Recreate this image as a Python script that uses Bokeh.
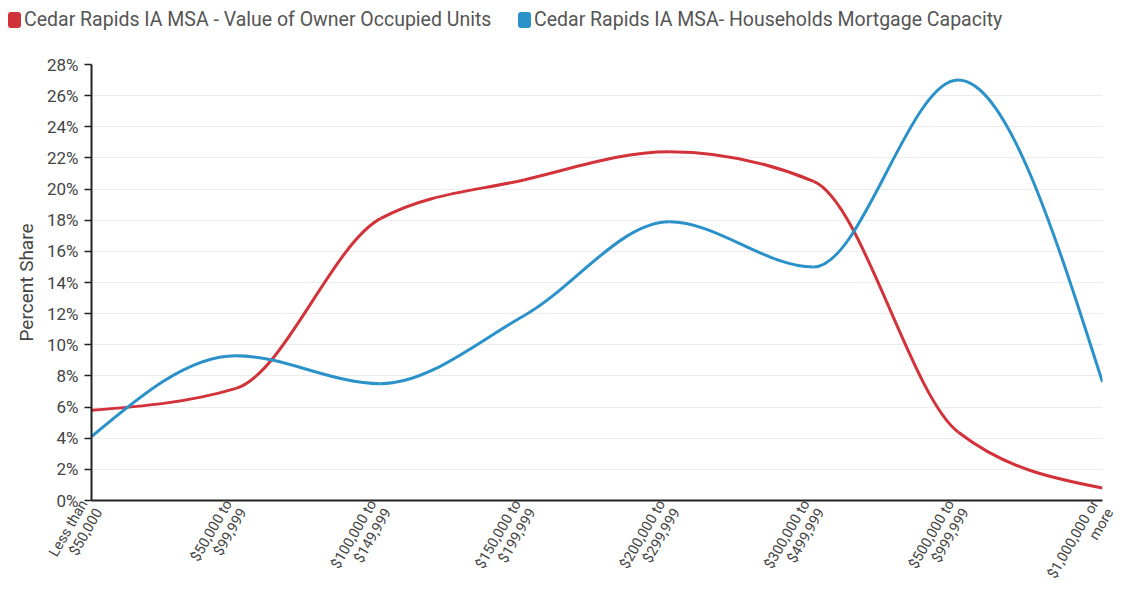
import numpy as np
from bokeh.plotting import figure
from bokeh.layouts import column
from bokeh.models import ColumnDataSource, FixedTicker, Range1d, Div
from bokeh.embed import file_html
from bokeh.resources import INLINE

# ---------------- data ----------------
categories = [
    "Less than\n$50,000",
    "$50,000 to\n$99,999",
    "$100,000 to\n$149,999",
    "$150,000 to\n$199,999",
    "$200,000 to\n$299,999",
    "$300,000 to\n$499,999",
    "$500,000 to\n$999,999",
    "$1,000,000 or\nmore",
]
value_owner_occupied = [5.8, 7.2, 18.1, 20.6, 22.4, 20.5, 4.4, 0.8]
mortgage_capacity = [4.1, 9.3, 7.5, 11.9, 17.9, 15.0, 27.0, 7.6]
y_ticks = list(range(0, 29, 2))

series_names = [
    "Cedar Rapids IA MSA - Value of Owner Occupied Units",
    "Cedar Rapids IA MSA- Households Mortgage Capacity",
]
RED = "#d2333b"
BLUE = "#2a91c9"
FONT = "Roboto"
W = 1125


def monotone_bezier(xs, ys):
    """Monotone-X cubic segments (as d3.curveMonotoneX) for smooth drawing."""
    xs = np.asarray(xs, float)
    ys = np.asarray(ys, float)
    n = len(xs)
    t = np.zeros(n)
    for i in range(1, n - 1):
        h0 = xs[i] - xs[i - 1]
        h1 = xs[i + 1] - xs[i]
        s0 = (ys[i] - ys[i - 1]) / h0
        s1 = (ys[i + 1] - ys[i]) / h1
        p = (s0 * h1 + s1 * h0) / (h0 + h1)
        t[i] = (np.sign(s0) + np.sign(s1)) * min(abs(s0), abs(s1), 0.5 * abs(p))
    h = xs[1] - xs[0]
    t[0] = (3 * (ys[1] - ys[0]) / h - t[1]) / 2
    h = xs[-1] - xs[-2]
    t[-1] = (3 * (ys[-1] - ys[-2]) / h - t[-2]) / 2
    dx = (xs[1:] - xs[:-1]) / 3
    return dict(
        x0=xs[:-1], y0=ys[:-1], x1=xs[1:], y1=ys[1:],
        cx0=xs[:-1] + dx, cy0=ys[:-1] + dx * t[:-1],
        cx1=xs[1:] - dx, cy1=ys[1:] - dx * t[1:],
    )


x_idx = list(range(len(categories)))

# ---------------- legend strip (HTML) ----------------
def legend_item(label, color, x):
    return (
        f'<span style="position:absolute;left:{x}px;top:12px;width:13px;height:16px;'
        f'background:{color};border-radius:3px;"></span>'
        f'<span style="position:absolute;left:{x + 16}px;top:8px;line-height:24px;'
        f'white-space:nowrap;">{label}</span>'
    )


legend_html = (
    f'<div style="position:relative;width:{W}px;height:40px;font-family:Roboto,sans-serif;'
    f'font-size:19.5px;color:#555555;">'
    + legend_item(series_names[0], RED, 8)
    + legend_item(series_names[1], BLUE, 518)
    + "</div>"
)
leg = Div(text=legend_html, width=W, height=40, margin=0)

# ---------------- main plot ----------------
p = figure(
    width=W, height=563,
    x_range=Range1d(0, len(categories) - 1),
    y_range=Range1d(0, 28),
    output_backend="svg", toolbar_location=None,
    min_border_left=91, min_border_right=W - 1102,
    min_border_top=24, min_border_bottom=103,
)
p.outline_line_color = None

p.xgrid.visible = False
p.ygrid.grid_line_color = "#ececec"
p.ygrid.grid_line_width = 1
p.ygrid.ticker = FixedTicker(ticks=y_ticks)

p.yaxis.ticker = FixedTicker(ticks=y_ticks)
p.yaxis.major_label_overrides = {v: f"{v}%" for v in y_ticks}
p.yaxis.axis_label = "Percent Share"
p.yaxis.axis_label_text_font = FONT
p.yaxis.axis_label_text_font_style = "normal"
p.yaxis.axis_label_text_font_size = "19px"
p.yaxis.axis_label_text_color = "#444444"
p.yaxis.axis_label_standoff = 6
p.yaxis.major_label_text_font = FONT
p.yaxis.major_label_text_font_size = "17px"
p.yaxis.major_label_text_color = "#444444"
p.yaxis.major_label_standoff = 6
p.yaxis.major_tick_out = 7
p.yaxis.major_tick_in = 0
p.yaxis.minor_tick_line_color = None
p.yaxis.axis_line_color = "#222222"
p.yaxis.axis_line_width = 2
p.yaxis.major_tick_line_color = "#222222"
p.yaxis.major_tick_line_width = 1.5

p.xaxis.ticker = FixedTicker(ticks=x_idx)
p.xaxis.major_label_overrides = {i: c for i, c in zip(x_idx, categories)}
p.xaxis.major_label_orientation = np.pi / 3
p.xaxis.major_label_text_font = FONT
p.xaxis.major_label_text_font_size = "14.5px"
p.xaxis.major_label_text_color = "#444444"
p.xaxis.major_label_text_line_height = 1.0
p.xaxis.major_tick_out = 0
p.xaxis.major_tick_in = 0
p.xaxis.minor_tick_line_color = None
p.xaxis.axis_line_color = "#222222"
p.xaxis.axis_line_width = 2
p.xaxis.major_label_standoff = 5

for vals, col in [(value_owner_occupied, RED), (mortgage_capacity, BLUE)]:
    src = ColumnDataSource(monotone_bezier(x_idx, vals))
    p.bezier(x0="x0", y0="y0", x1="x1", y1="y1", cx0="cx0", cy0="cy0",
             cx1="cx1", cy1="cy1", source=src, line_color=col, line_width=3)

layout = column(leg, p, spacing=0)
open("out.html", "w").write(file_html(layout, INLINE))
